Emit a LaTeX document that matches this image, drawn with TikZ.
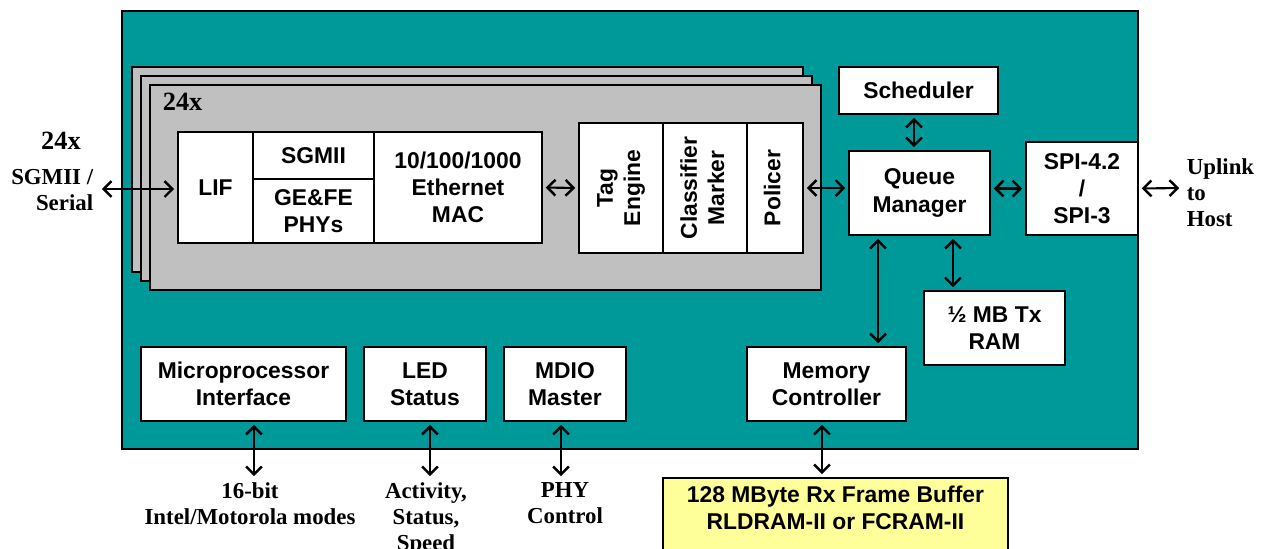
\documentclass[tikz,border=0pt]{standalone}
\usepackage{fontspec}
\setmainfont{Liberation Serif}
\setsansfont{Liberation Sans}
\usepackage{graphicx}
\usetikzlibrary{arrows.meta,calc}
\definecolor{chipteal}{HTML}{009999}
\definecolor{stackgray}{HTML}{C0C0C0}
\definecolor{bufyellow}{HTML}{FFFF99}
\tikzset{
  blk/.style={draw=black, line width=1.1pt, fill=white, inner sep=0pt, align=center,
    font=\sffamily\bfseries\fontsize{13}{15.5}\selectfont},
  stackbox/.style={draw=black, line width=1.1pt, fill=stackgray, inner sep=0pt,
    minimum width=13.42cm, minimum height=4.1cm},
  lbl/.style={inner sep=2pt, align=center, font=\rmfamily\bfseries\fontsize{13}{14.7}\selectfont},
  link/.style={line width=1.2pt, {Straight Barb[length=4.5pt,width=9pt,line width=1.4pt]}-{Straight Barb[length=4.5pt,width=9pt,line width=1.4pt]},
    shorten <=1.6pt, shorten >=1.6pt},
}
\newcommand{\rtxt}[1]{\rotatebox{90}{\begin{tabular}{@{}c@{}}#1\end{tabular}}}
\begin{document}
\begin{tikzpicture}[x=0.02cm,y=-0.02cm]
\useasboundingbox (0,0) rectangle (1264,548);
% chip
\node[draw=black, line width=1pt, fill=chipteal, inner sep=0pt, minimum width=20.32cm, minimum height=8.76cm] (chip) at (630,230) {};
% port stack
\node[stackbox] (s1) at (467.5,169.5) {};
\node[stackbox] (s2) at (476.5,178.5) {};
\node[stackbox] (s3) at (485.5,187.5) {};
\node[lbl, anchor=west, font=\rmfamily\bfseries\fontsize{15}{17}\selectfont] (n24) at (159,102) {24x};
% port blocks
\node[blk, minimum width=1.5cm, minimum height=2.22cm] (lif) at (215.5,187.5) {LIF};
\node[blk, minimum width=2.42cm, minimum height=0.94cm] (sgmii) at (313.5,155.5) {SGMII};
\node[blk, minimum width=2.42cm, minimum height=1.28cm] (phy) at (313.5,211) {GE\&FE\\PHYs};
\node[blk, minimum width=3.36cm, minimum height=2.22cm] (mac) at (458,187.5) {10/100/1000\\Ethernet\\MAC};
\node[blk, minimum width=1.68cm, minimum height=2.6cm] (tag) at (621,188) {\rtxt{Tag\\Engine}};
\node[blk, minimum width=1.68cm, minimum height=2.6cm] (cls) at (705,188) {\rtxt{Classifier\\Marker}};
\node[blk, minimum width=1.12cm, minimum height=2.6cm] (pol) at (775,188) {\rtxt{Policer}};
% right blocks
\node[blk, minimum width=3.18cm, minimum height=0.94cm] (sch) at (918.5,90.5) {Scheduler};
\node[blk, minimum width=2.82cm, minimum height=1.68cm] (qm) at (919.5,193) {Queue\\Manager};
\node[blk, minimum width=2.24cm, minimum height=1.86cm] (spi) at (1082,188.5) {SPI-4.2\\/\\SPI-3};
\node[blk, minimum width=2.82cm, minimum height=1.48cm] (txr) at (994.5,328) {½ MB Tx\\RAM};
\node[blk, minimum width=3.18cm, minimum height=1.48cm] (mem) at (826.5,384) {Memory\\Controller};
% bottom blocks
\node[blk, minimum width=4.1cm, minimum height=1.48cm] (mpi) at (243.5,384) {Microprocessor\\Interface};
\node[blk, minimum width=2.44cm, minimum height=1.48cm] (led) at (425,384) {LED\\Status};
\node[blk, minimum width=2.44cm, minimum height=1.48cm] (mdio) at (565,384) {MDIO\\Master};
% frame buffer
\node[blk, fill=bufyellow, anchor=north, minimum width=6.9cm, inner ysep=4.5pt] (buf) at (835.5,477)
  {128 MByte Rx Frame Buffer\\RLDRAM-II or FCRAM-II\\ \\ };
% outside labels
\node[lbl, font=\rmfamily\bfseries\fontsize{15}{17}\selectfont] (l24) at (61,141) {24x};
\node[lbl, anchor=east, align=right] (lser) at (97,190) {SGMII /\\Serial};
\coordinate (lin) at (99,189);
\node[lbl, anchor=west, align=left] (up) at (1183,193) {Uplink\\to\\Host};
\coordinate (upin) at (1182,188);
\node[lbl, anchor=north] (mtxt) at (250,479) {16-bit\\Intel/Motorola modes};
\node[lbl, anchor=north] (ltxt) at (426,479) {Activity,\\Status,\\Speed};
\node[lbl, anchor=north] (ptxt) at (565,479) {PHY\\Control};
% connectors
\draw[link] (lin) -- (lin -| lif.west);
\draw[link] (mac.east) -- (tag.west);
\draw[link] (pol.east) -- (pol.east -| qm.west);
\draw[link] ([xshift=-0.09cm]sch.south) -- ([xshift=-0.09cm]sch.south |- qm.north);
\draw[link] (spi.west -| qm.east) -- (spi.west);
\draw[link] (spi.east) -- (upin);
\draw[link] ([xshift=-0.83cm]qm.south) -- ([xshift=-0.83cm]qm.south |- mem.north);
\draw[link] ([xshift=0.67cm]qm.south) -- ([xshift=0.67cm]qm.south |- txr.north);
\draw[link] ([xshift=-0.09cm]mem.south) -- ([xshift=-0.09cm]mem.south |- buf.north);
\draw[link] ([xshift=0.08cm]mtxt.north |- mpi.south) -- ([xshift=0.08cm]mtxt.north);
\draw[link] ([xshift=0.08cm]ltxt.north |- led.south) -- ([xshift=0.08cm]ltxt.north);
\draw[link] ([xshift=-0.08cm]ptxt.north |- mdio.south) -- ([xshift=-0.08cm]ptxt.north);
\end{tikzpicture}
\end{document}
